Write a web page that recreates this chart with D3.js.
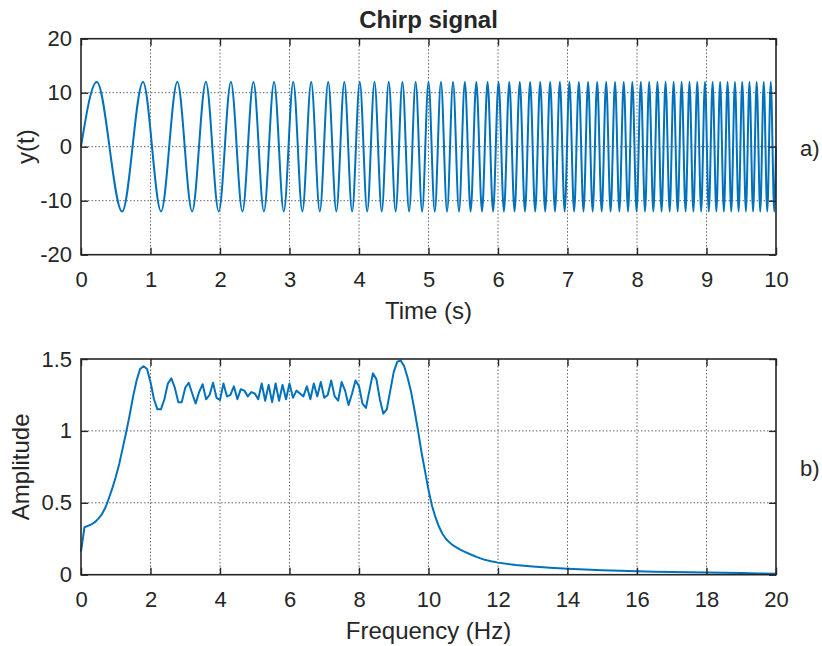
<!DOCTYPE html>
<html>
<head>
<meta charset="utf-8">
<script src="https://cdn.jsdelivr.net/npm/d3@7"></script>
<style>
  body { margin: 0; background: #fff; }
  svg { display: block; }
  text { font-family: "Liberation Sans", Arial, sans-serif; fill: #262626; }
</style>
</head>
<body>
<div id="chart"></div>
<script>
const width = 822;
const height = 646;

// signal a) : times of the extrema (s), and their values
const chirpT = [0, 0.227, 0.592, 0.892, 1.152, 1.386, 1.599, 1.797, 1.982, 2.157, 2.323,
  2.481, 2.632, 2.778, 2.918, 3.054, 3.185, 3.312, 3.436, 3.557, 3.674, 3.789, 3.901,
  4.011, 4.118, 4.223, 4.327, 4.428, 4.527, 4.625, 4.721, 4.815, 4.908, 5.000, 5.090,
  5.179, 5.267, 5.353, 5.439, 5.523, 5.606, 5.688, 5.770, 5.850, 5.929, 6.008, 6.085,
  6.162, 6.238, 6.313, 6.388, 6.462, 6.535, 6.607, 6.679, 6.750, 6.820, 6.890, 6.959,
  7.027, 7.095, 7.163, 7.230, 7.296, 7.362, 7.427, 7.492, 7.556, 7.620, 7.684, 7.746,
  7.809, 7.871, 7.933, 7.994, 8.055, 8.115, 8.175, 8.235, 8.294, 8.353, 8.411, 8.470,
  8.527, 8.585, 8.642, 8.699, 8.755, 8.811, 8.867, 8.923, 8.978, 9.033, 9.088, 9.142,
  9.196, 9.250, 9.303, 9.356, 9.409, 9.462, 9.514, 9.567, 9.618, 9.670, 9.722, 9.773,
  9.824, 9.874, 9.925, 9.975, 10];
const chirpY = [0,
  12, -12, 12, -12, 12, -12, 12, -12, 12, -12, 12, -12, 12, -12, 12, -12, 12, -12, 12, -12,
  12, -12, 12, -12, 12, -12, 12, -12, 12, -12, 12, -12, 12, -12, 12, -12, 12, -12, 12, -12,
  12, -12, 12, -12, 12, -12, 12, -12, 12, -12, 12, -12, 12, -12, 12, -12, 12, -12, 12, -12,
  12, -12, 12, -12, 12, -12, 12, -12, 12, -12, 12, -12, 12, -12, 12, -12, 12, -12, 12, -12,
  12, -12, 12, -12, 12, -12, 12, -12, 12, -12, 12, -12, 12, -12, 12, -12, 12, -12, 12, -12,
  12, -12, 12, -12, 12, -12, 12, -12, 12, -12,
  0];

// spectrum b)
const freqHz = [0, 0.1, 0.2, 0.3, 0.4, 0.5, 0.6, 0.7, 0.8, 0.9,
  1.0, 1.1, 1.2, 1.3, 1.4, 1.5, 1.6, 1.7, 1.8, 1.9,
  2.0, 2.1, 2.2, 2.3, 2.4, 2.5, 2.6, 2.7, 2.8, 2.9,
  3.0, 3.1, 3.2, 3.3, 3.4, 3.5, 3.6, 3.7, 3.8, 3.9,
  4.0, 4.1, 4.2, 4.3, 4.4, 4.5, 4.6, 4.7, 4.8, 4.9,
  5.0, 5.1, 5.2, 5.3, 5.4, 5.5, 5.6, 5.7, 5.8, 5.9,
  6.0, 6.1, 6.2, 6.3, 6.4, 6.5, 6.6, 6.7, 6.8, 6.9,
  7.0, 7.1, 7.2, 7.3, 7.4, 7.5, 7.6, 7.7, 7.8, 7.9,
  8.0, 8.1, 8.2, 8.3, 8.4, 8.5, 8.6, 8.7, 8.8, 8.9,
  9.0, 9.1, 9.2, 9.3, 9.4, 9.5, 9.6, 9.7, 9.8, 9.9,
  10.0, 10.1, 10.2, 10.3, 10.4, 10.5, 10.6, 10.7, 10.8, 10.9,
  11.0, 11.2, 11.4, 11.6, 11.8, 12.0, 12.5, 13.0, 13.5, 14.0,
  14.5, 15.0, 15.5, 16.0, 16.5, 17.0, 17.5, 18.0, 18.5, 19.0, 19.5, 20.0];
const amplitude = [0.16, 0.33, 0.34, 0.35, 0.365, 0.39, 0.42, 0.465, 0.53, 0.60,
  0.68, 0.77, 0.88, 0.99, 1.11, 1.24, 1.35, 1.43, 1.45, 1.43,
  1.34, 1.22, 1.15, 1.15, 1.22, 1.33, 1.365, 1.30, 1.20, 1.20,
  1.30, 1.335, 1.26, 1.19, 1.27, 1.325, 1.22, 1.25, 1.335, 1.23,
  1.215, 1.33, 1.24, 1.25, 1.31, 1.22, 1.29, 1.28, 1.24, 1.27,
  1.26, 1.22, 1.33, 1.21, 1.32, 1.20, 1.33, 1.21, 1.32, 1.22,
  1.33, 1.23, 1.28, 1.26, 1.24, 1.31, 1.22, 1.33, 1.24, 1.34,
  1.23, 1.25, 1.35, 1.24, 1.21, 1.34, 1.28, 1.18, 1.26, 1.35,
  1.31, 1.19, 1.16, 1.28, 1.40, 1.36, 1.22, 1.12, 1.15, 1.28,
  1.41, 1.48, 1.49, 1.45, 1.37, 1.27, 1.14, 1.00, 0.85, 0.72,
  0.59, 0.48, 0.40, 0.335, 0.285, 0.25, 0.225, 0.205, 0.19, 0.176,
  0.164, 0.142, 0.122, 0.105, 0.093, 0.084, 0.068, 0.057, 0.048, 0.041,
  0.036, 0.031, 0.027, 0.024, 0.021, 0.019, 0.017, 0.015, 0.013, 0.011, 0.009, 0.007];

// ticks
const timeTicks = [0, 1, 2, 3, 4, 5, 6, 7, 8, 9, 10];
const yTicks = [-20, -10, 0, 10, 20];
const freqTicks = [0, 2, 4, 6, 8, 10, 12, 14, 16, 18, 20];
const ampTicks = [0, 0.5, 1, 1.5];

const lineColor = "#0072bd";
const axisColor = "#262626";

const svg = d3.create("svg")
    .attr("width", width)
    .attr("height", height)
    .style("background", "#fff");

function panel(p) {
  const x = d3.scaleLinear().domain(p.xDomain).range([81, 776]);
  const y = d3.scaleLinear().domain(p.yDomain).range([p.bottom, p.top]);
  const g = svg.append("g");

  // grille pointillée
  g.append("g").selectAll("line")
    .data(p.xTicks.slice(1, -1))
    .join("line")
      .attr("x1", d => x(d)).attr("x2", d => x(d))
      .attr("y1", p.top).attr("y2", p.bottom)
      .attr("stroke", "#666").attr("stroke-width", 1)
      .attr("stroke-dasharray", "1.5,2");
  g.append("g").selectAll("line")
    .data(p.yTicks.slice(1, -1))
    .join("line")
      .attr("x1", 81).attr("x2", 776)
      .attr("y1", d => y(d)).attr("y2", d => y(d))
      .attr("stroke", "#666").attr("stroke-width", 1)
      .attr("stroke-dasharray", "1.5,2");

  // courbe
  g.append("path")
    .datum(p.xs.map((v, i) => [v, p.ys[i]]))
    .attr("fill", "none")
    .attr("stroke", lineColor)
    .attr("stroke-width", 2)
    .attr("stroke-linejoin", "round")
    .attr("d", d3.line().x(d => x(d[0])).y(d => y(d[1])).curve(p.curve));

  const style = sel => {
    sel.attr("font-size", 22).attr("font-family", null);
    sel.select(".domain").remove();
    sel.selectAll(".tick line").attr("stroke", axisColor).attr("stroke-width", 1.4);
    sel.selectAll(".tick text").attr("fill", axisColor);
  };

  g.append("g")
      .attr("transform", `translate(0,${p.bottom})`)
      .call(d3.axisBottom(x).tickValues(p.xTicks).tickFormat(d => String(d))
        .tickSizeInner(-7).tickSizeOuter(0).tickPadding(17))
      .call(style);
  g.append("g")
      .attr("transform", `translate(0,${p.top})`)
      .call(d3.axisTop(x).tickValues(p.xTicks).tickFormat("")
        .tickSizeInner(-7).tickSizeOuter(0))
      .call(style);
  g.append("g")
      .attr("transform", "translate(81,0)")
      .call(d3.axisLeft(y).tickValues(p.yTicks).tickFormat(d => String(d))
        .tickSizeInner(-7).tickSizeOuter(0).tickPadding(9))
      .call(style);
  g.append("g")
      .attr("transform", "translate(776,0)")
      .call(d3.axisRight(y).tickValues(p.yTicks).tickFormat("")
        .tickSizeInner(-7).tickSizeOuter(0))
      .call(style);

  // cadre
  g.append("rect")
      .attr("x", 81).attr("y", p.top)
      .attr("width", 776 - 81).attr("height", p.bottom - p.top)
      .attr("fill", "none")
      .attr("stroke", axisColor)
      .attr("stroke-width", 1.6);

  // libellés
  g.append("text")
      .attr("x", 428.5).attr("y", p.bottom + 64)
      .attr("text-anchor", "middle")
      .attr("font-size", 24)
      .text(p.xLabel);
  g.append("text")
      .attr("transform", `translate(${p.yLabelX},${(p.top + p.bottom) / 2}) rotate(-90)`)
      .attr("text-anchor", "middle")
      .attr("font-size", 24)
      .text(p.yLabel);
  g.append("text")
      .attr("x", 800).attr("y", (p.top + p.bottom) / 2 + 9)
      .attr("font-size", 22)
      .text(p.tag);
}

panel({
  xs: chirpT, ys: chirpY, curve: d3.curveMonotoneX,
  xDomain: [0, 10], yDomain: [-20, 20],
  top: 38.7, bottom: 254.7,
  xTicks: timeTicks, yTicks: yTicks,
  xLabel: "Time (s)", yLabel: "y(t)", yLabelX: 34, tag: "a)"
});

panel({
  xs: freqHz, ys: amplitude, curve: d3.curveLinear,
  xDomain: [0, 20], yDomain: [0, 1.5],
  top: 359, bottom: 574.7,
  xTicks: freqTicks, yTicks: ampTicks,
  xLabel: "Frequency (Hz)", yLabel: "Amplitude", yLabelX: 28.5, tag: "b)"
});

svg.append("text")
    .attr("x", 428.5).attr("y", 28)
    .attr("text-anchor", "middle")
    .attr("font-size", 24)
    .attr("font-weight", "bold")
    .attr("fill", "#000")
    .text("Chirp signal");

document.getElementById("chart").appendChild(svg.node());
</script>
</body>
</html>
